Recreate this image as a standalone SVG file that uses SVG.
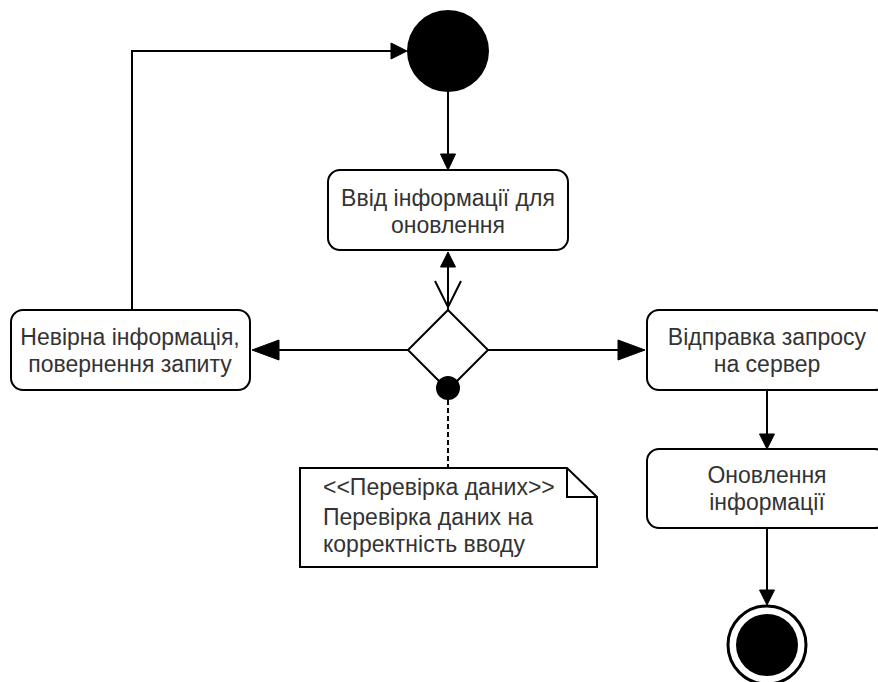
<svg xmlns="http://www.w3.org/2000/svg" width="878" height="682" viewBox="0 0 878 682">
<style>
.box{fill:#fff;stroke:#000;stroke-width:2}
.t{font-family:"Liberation Sans",Arial,sans-serif;font-size:23px;fill:#333;text-anchor:middle}
.nt{font-family:"Liberation Sans",Arial,sans-serif;font-size:23px;fill:#333}
.ln{fill:none;stroke:#000;stroke-width:2}
.ah{fill:#000;stroke:#000;stroke-width:1}
</style>
<rect width="878" height="682" fill="#fff"/>
<g id="connectors">
  <path class="ln" d="M132,310 V51 H392"/>
  <polygon class="ah" points="407,51 391,43 391,59"/>
  <path class="ln" d="M448,92 V156"/>
  <polygon class="ah" points="448,170 440.5,154 455.5,154"/>
  <path class="ln" d="M448,310 V266"/>
  <polygon class="ah" points="448,252 440.5,267 455.5,267"/>
  <path class="ln" d="M435,281 L448,307 L461,281"/>
  <path class="ln" d="M408,350 H276"/>
  <polygon class="ah" points="252,350 279,340 279,360"/>
  <path class="ln" d="M488,350 H620"/>
  <polygon class="ah" points="645,350 618,340 618,360"/>
  <path class="ln" d="M767,390 V436"/>
  <polygon class="ah" points="767,449 759.5,434 774.5,434"/>
  <path class="ln" d="M767,528 V592"/>
  <polygon class="ah" points="767,605 759.5,590 774.5,590"/>
  <path class="ln" d="M448,400 V468" stroke-dasharray="5,3"/>
</g>
<g id="start">
  <circle cx="448" cy="51" r="41" fill="#000"/>
</g>
<g id="input">
  <rect class="box" x="328" y="170" width="240" height="80" rx="12"/>
  <text class="t" x="448" y="206">Ввід інформації для</text>
  <text class="t" x="448" y="233">оновлення</text>
</g>
<g id="decision">
  <polygon class="box" points="448,310 488,350 448,390 408,350"/>
  <circle cx="448" cy="388" r="12" fill="#000"/>
</g>
<g id="invalid">
  <rect class="box" x="11" y="310" width="239" height="80" rx="12"/>
  <text class="t" x="130" y="345">Невірна інформація,</text>
  <text class="t" x="130" y="372">повернення запиту</text>
</g>
<g id="send">
  <rect class="box" x="647" y="310" width="240" height="80" rx="12"/>
  <text class="t" x="767" y="345">Відправка запросу</text>
  <text class="t" x="767" y="372">на сервер</text>
</g>
<g id="update">
  <rect class="box" x="647" y="449" width="240" height="79" rx="12"/>
  <text class="t" x="767" y="483">Оновлення</text>
  <text class="t" x="767" y="510">інформації</text>
</g>
<g id="note">
  <path class="box" d="M300,468 H567 L597,497 V567 H300 Z"/>
  <path class="ln" d="M567,468 V497 H597"/>
  <text class="nt" x="323" y="495">&lt;&lt;Перевірка даних&gt;&gt;</text>
  <text class="nt" x="323" y="525">Перевірка даних на</text>
  <text class="nt" x="323" y="552">корректність вводу</text>
</g>
<g id="end">
  <circle cx="767" cy="645" r="39" fill="#fff" stroke="#000" stroke-width="3"/>
  <circle cx="767" cy="645" r="31" fill="#000"/>
</g>
</svg>
